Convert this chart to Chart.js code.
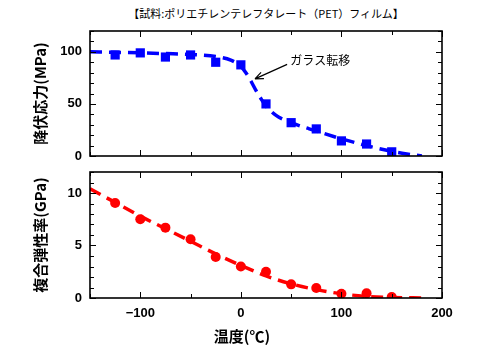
<!DOCTYPE html>
<html>
<head>
<meta charset="utf-8">
<script src="https://cdn.jsdelivr.net/npm/chart.js@4.4.1/dist/chart.umd.min.js"></script>
<style>
    body { margin: 0; background: #fff; width: 490px; height: 354px; position: relative; overflow: hidden; font-family: "Noto Sans CJK JP", sans-serif; }
    #yieldChart { position: absolute; left: 0; top: 0; }
    #modulusChart { position: absolute; left: 0; top: 165px; }
    .txt { position: absolute; white-space: nowrap; color: #000; }
    #title { left: 0; width: 532px; top: 5px; text-align: center; font-size: 11px; }
    #xTitle { left: 0; width: 484px; top: 325px; text-align: center; font-size: 15px; font-weight: bold; }
</style>
</head>
<body>
<div id="title" class="txt">【試料:ポリエチレンテレフタレート（PET）フィルム】</div>
<canvas id="yieldChart" width="490" height="165"></canvas>
<canvas id="modulusChart" width="490" height="189"></canvas>
<div id="xTitle" class="txt">温度(℃)</div>
<script>
// measured points
const temps = [-125, -100, -75, -50, -25, 0, 25, 50, 75, 100, 125, 150];
const yieldStress = [97, 99, 95, 97, 90, 87.5, 50, 32, 26, 14.5, 11.5, 4];
const modulus = [9.05, 7.5, 6.7, 5.6, 3.9, 3.0, 2.5, 1.3, 0.95, 0.4, 0.45, 0.1];

// dashed guide curves
const fitTempsYield = [-150, -125, -100, -75, -50, -25, -10, 0, 5, 10, 15, 20, 25, 35, 50, 75, 100, 125, 150, 165, 180];
const fitYield = [100, 99.6, 99, 98.3, 97.5, 95.5, 92, 86, 80, 72, 63, 55, 48, 39, 32, 24, 16.5, 10, 4.5, 2, 0];
const fitTempsModulus = [-150, -125, -100, -75, -50, -25, 0, 25, 50, 75, 100, 125, 150, 180];
const fitModulus = [10.4, 9.1, 7.8, 6.6, 5.4, 4.2, 3.1, 2.1, 1.35, 0.8, 0.4, 0.15, 0.05, 0];

// axes
const xTicks = [-100, 0, 100, 200];
const yieldTicks = [0, 50, 100];
const modulusTicks = [0, 5, 10];

const tickFont = { family: '"Liberation Sans", Arial, sans-serif', size: 13, weight: 'bold' };
const axisTitleFont = { family: '"Noto Sans CJK JP", sans-serif', size: 15, weight: 'bold' };

function pairs(xs, ys) {
    return xs.map((x, i) => ({ x: x, y: ys[i] }));
}

// box + inward ticks on all four sides
const framePlugin = {
    id: 'frame',
    afterDatasetsDraw(chart, args, opts) {
        const { ctx, chartArea: a, scales: { x, y } } = chart;
        ctx.save();
        ctx.strokeStyle = '#000';
        ctx.lineWidth = 1;
        ctx.beginPath();
        for (let v = x.min; v <= x.max; v += 50) {
            const px = Math.round(x.getPixelForValue(v)) + 0.5;
            const len = v % 100 === 0 ? 6 : 4;
            ctx.moveTo(px, a.bottom); ctx.lineTo(px, a.bottom - len);
            ctx.moveTo(px, a.top); ctx.lineTo(px, a.top + len);
        }
        for (let v = y.min; v <= y.max + 1e-9; v += opts.minor) {
            const py = Math.round(y.getPixelForValue(v)) + 0.5;
            const len = Math.abs(v % opts.major) < 1e-6 ? 6 : 4;
            ctx.moveTo(a.left, py); ctx.lineTo(a.left + len, py);
            ctx.moveTo(a.right, py); ctx.lineTo(a.right - len, py);
        }
        ctx.stroke();
        ctx.lineWidth = 1.6;
        ctx.strokeRect(a.left, a.top, a.right - a.left, a.bottom - a.top);
        ctx.restore();
    }
};

// "ガラス転移" label with arrow
const glassPlugin = {
    id: 'glass',
    afterDatasetsDraw(chart) {
        const { ctx, scales: { x, y } } = chart;
        const tx = x.getPixelForValue(14), ty = y.getPixelForValue(74);
        const sx = x.getPixelForValue(46), sy = y.getPixelForValue(88);
        ctx.save();
        ctx.strokeStyle = '#000';
        ctx.lineWidth = 1.2;
        ctx.beginPath();
        ctx.moveTo(sx, sy); ctx.lineTo(tx, ty);
        const ang = Math.atan2(ty - sy, tx - sx);
        ctx.moveTo(tx, ty); ctx.lineTo(tx - 9 * Math.cos(ang - 0.4), ty - 9 * Math.sin(ang - 0.4));
        ctx.moveTo(tx, ty); ctx.lineTo(tx - 9 * Math.cos(ang + 0.4), ty - 9 * Math.sin(ang + 0.4));
        ctx.stroke();
        ctx.fillStyle = '#000';
        ctx.font = '12px "Noto Sans CJK JP", sans-serif';
        ctx.textBaseline = 'middle';
        ctx.fillText('ガラス転移', x.getPixelForValue(49), y.getPixelForValue(92));
        ctx.restore();
    }
};

function xScale(showLabels, bottomHeight) {
    return {
        type: 'linear', min: -150, max: 200,
        grid: { display: false, drawTicks: false },
        border: { display: false },
        afterBuildTicks: s => { s.ticks = xTicks.map(v => ({ value: v })); },
        afterFit: s => { s.height = bottomHeight; s.paddingLeft = 0; s.paddingRight = 0; },
        ticks: {
            display: showLabels, padding: 8, color: '#000', font: tickFont, maxRotation: 0,
            callback: v => String(v).replace('-', '−')
        }
    };
}

function yScale(max, ticks, title) {
    return {
        type: 'linear', min: 0, max: max,
        grid: { display: false, drawTicks: false },
        border: { display: false },
        afterBuildTicks: s => { s.ticks = ticks.map(v => ({ value: v })); },
        afterFit: s => { s.width = 90; s.paddingTop = 0; s.paddingBottom = 0; },
        ticks: { padding: 8, color: '#000', font: tickFont },
        title: { display: true, text: title, color: '#000', font: axisTitleFont, padding: { top: 31, bottom: 0 } }
    };
}

new Chart(document.getElementById('yieldChart'), {
    type: 'scatter',
    data: {
        datasets: [{
            data: pairs(temps, yieldStress),
            showLine: false,
            pointStyle: 'rect',
            pointRadius: 6.5,
            backgroundColor: '#0000ff',
            borderWidth: 0
        }, {
            data: pairs(fitTempsYield, fitYield),
            showLine: true,
            pointRadius: 0,
            borderColor: '#0000ff',
            borderWidth: 3.5,
            borderDash: [12, 7],
            cubicInterpolationMode: 'monotone'
        }]
    },
    options: {
        responsive: false,
        animation: false,
        layout: { padding: { left: 0, right: 48, top: 31, bottom: 0 } },
        scales: { x: xScale(false, 9), y: yScale(120, yieldTicks, '降伏応力(MPa)') },
        plugins: { legend: { display: false }, tooltip: { enabled: false }, frame: { minor: 10, major: 50 } }
    },
    plugins: [framePlugin, glassPlugin]
});

new Chart(document.getElementById('modulusChart'), {
    type: 'scatter',
    data: {
        datasets: [{
            data: pairs(temps, modulus),
            showLine: false,
            pointStyle: 'circle',
            pointRadius: 5,
            backgroundColor: '#ff0000',
            borderWidth: 0
        }, {
            data: pairs(fitTempsModulus, fitModulus),
            showLine: true,
            pointRadius: 0,
            borderColor: '#ff0000',
            borderWidth: 3.5,
            borderDash: [12, 7],
            cubicInterpolationMode: 'monotone'
        }]
    },
    options: {
        responsive: false,
        animation: false,
        layout: { padding: { left: 0, right: 48, top: 7, bottom: 0 } },
        scales: { x: xScale(true, 56), y: yScale(12, modulusTicks, '複合弾性率(GPa)') },
        plugins: { legend: { display: false }, tooltip: { enabled: false }, frame: { minor: 1, major: 5 } }
    },
    plugins: [framePlugin]
});
</script>
</body>
</html>
